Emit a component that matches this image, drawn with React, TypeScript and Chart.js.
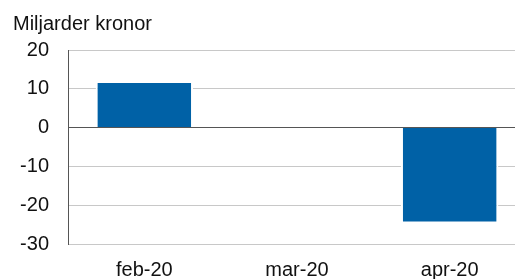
import React, { useEffect, useRef } from "react";
import { Chart, registerables } from "chart.js";

Chart.register(...registerables);

const categories = ["feb-20", "mar-20", "apr-20"];
const values = [12.0, 0, -24.7];
const yTicks = [-30, -20, -10, 0, 10, 20];
const yTitle = "Miljarder kronor";

const FONT = "'Liberation Sans', Arial, Helvetica, sans-serif";

export default function App() {
  const ref = useRef<HTMLCanvasElement | null>(null);

  useEffect(() => {
    const canvas = ref.current;
    if (!canvas) return;
    const chart = new Chart(canvas, {
      type: "bar",
      data: {
        labels: categories,
        datasets: [
          {
            data: values,
            backgroundColor: "#0061a6",
            borderColor: "#ffffff",
            borderWidth: 2,
            barPercentage: 0.638,
            categoryPercentage: 1,
          },
        ],
      },
      options: {
        responsive: false,
        animation: false,
        devicePixelRatio: 1,
        layout: { padding: { left: 13, right: 0, top: 0, bottom: 0 } },
        plugins: {
          legend: { display: false },
          tooltip: { enabled: false },
          title: {
            display: true,
            text: yTitle,
            align: "start",
            color: "#111111",
            font: { family: FONT, size: 20, weight: "normal" },
            padding: { top: 12.3, bottom: 13.7 },
          },
        },
        scales: {
          x: {
            grid: { display: false, drawTicks: false },
            border: { display: false },
            ticks: {
              color: "#111111",
              font: { family: FONT, size: 20 },
              padding: 14,
              maxRotation: 0,
            },
            afterFit: (scale: any) => {
              scale.height = 35;
            },
          },
          y: {
            min: Math.min(...yTicks),
            max: Math.max(...yTicks),
            afterBuildTicks: (scale: any) => {
              scale.ticks = yTicks.map((v) => ({ value: v }));
            },
            grid: {
              color: (ctx: any) =>
                ctx.tick && ctx.tick.value === 0 ? "#555555" : "#c8c8c8",
              lineWidth: 1,
              drawTicks: false,
            },
            border: { display: true, color: "#555555", width: 1 },
            ticks: {
              color: "#111111",
              font: { family: FONT, size: 20 },
              padding: 19,
            },
            afterFit: (scale: any) => {
              scale.width = 55;
            },
          },
        },
      },
    });
    return () => chart.destroy();
  }, []);

  return (
    <div
      style={{
        position: "fixed",
        left: 0,
        top: 0,
        width: 515,
        height: 279,
        overflow: "hidden",
        background: "#ffffff",
      }}
    >
      <canvas ref={ref} width={526} height={279} style={{ width: 526, height: 279, display: "block" }} />
    </div>
  );
}
